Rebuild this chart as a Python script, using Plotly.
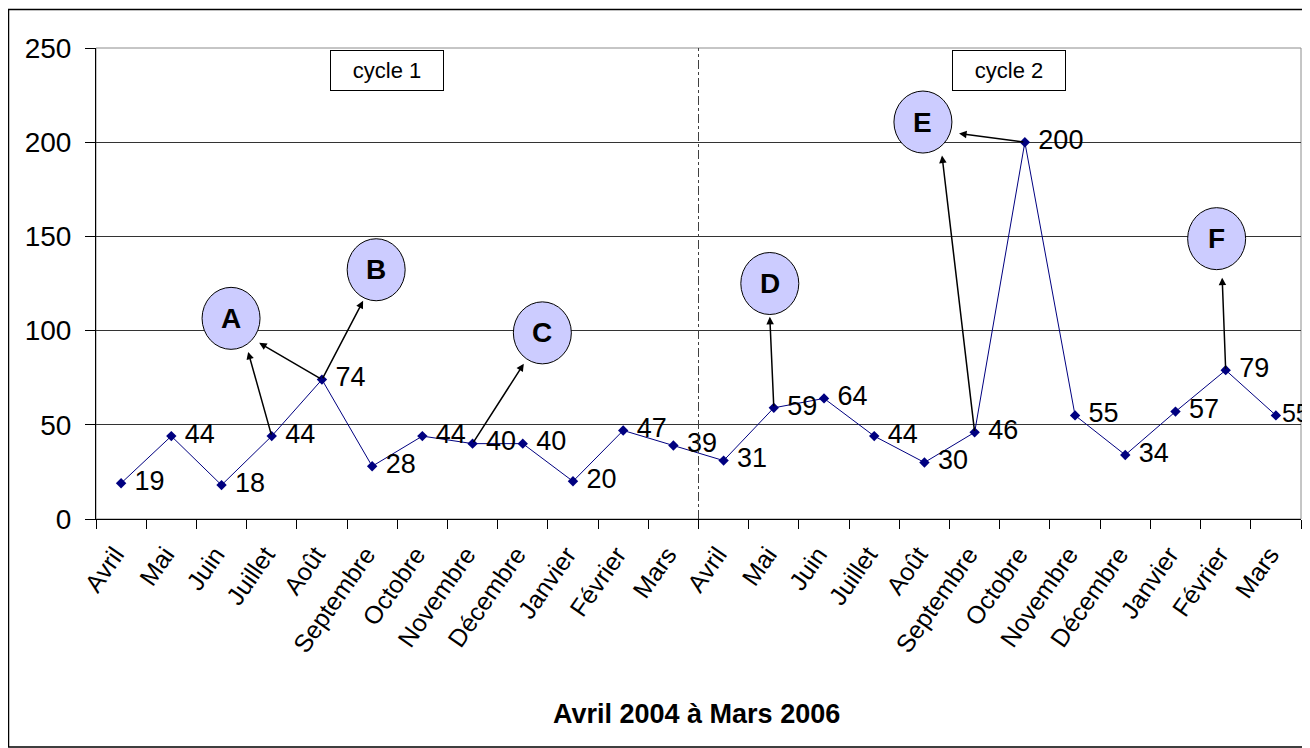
import plotly.graph_objects as go

# ---- data ----
months = ["Avril", "Mai", "Juin", "Juillet", "Août", "Septembre", "Octobre",
          "Novembre", "Décembre", "Janvier", "Février", "Mars",
          "Avril", "Mai", "Juin", "Juillet", "Août", "Septembre", "Octobre",
          "Novembre", "Décembre", "Janvier", "Février", "Mars"]
values = [19, 44, 18, 44, 74, 28, 44, 40, 40, 20, 47, 39,
          31, 59, 64, 44, 30, 46, 200, 55, 34, 57, 79, 55]
x_title = "Avril 2004 à Mars 2006"
y_ticks = [0, 50, 100, 150, 200, 250]

# bubbles (letter, x in category index, y in data units)
bubble_letters = ["A", "B", "C", "D", "E", "F"]
bubble_x = [2.19, 5.08, 8.39, 12.92, 15.97, 21.82]
bubble_y = [106.5, 132.3, 98.8, 125.0, 210.7, 148.8]

# arrows: from data point index -> head position
arrow_from = [3, 4, 4, 7, 13, 17, 18, 22]
arrow_head_x = [2.53, 2.75, 4.82, 8.02, 12.92, 16.35, 16.69, 21.93]
arrow_head_y = [88.7, 93.5, 115.8, 82.4, 107.3, 192.9, 204.6, 128.1]

cycle_labels = ["cycle 1", "cycle 2"]
cycle_x = [5.30, 17.68]
cycle_y = [238.3, 238.0]
cycle_split = 11.5

FONT = "Liberation Sans, Arial, sans-serif"
NAVY = "#000080"

xs = list(range(len(values)))
labels = [f" {v}" for v in values]
labels[-1] = f"{values[-1]}"
label_sizes = [27] * len(values)
label_sizes[-1] = 25

fig = go.Figure()
fig.add_trace(go.Scatter(
    x=xs, y=values, mode="lines+markers+text",
    line=dict(color=NAVY, width=1),
    marker=dict(symbol="diamond", size=8, color=NAVY),
    text=labels, textposition="middle right",
    textfont=dict(family=FONT, size=label_sizes, color="black"),
    cliponaxis=False, showlegend=False, hoverinfo="skip",
))

# page body has an 8px margin: figure is offset by 8px in the window
OFF = 8
W, H = 1310 - OFF, 748 - OFF
L, T = 96 - OFF, 48 - OFF
R = W - (1301 - OFF)
B = H - (519 - OFF)
pw, ph = W - L - R, H - T - B


def px_x(wx):
    return (wx - OFF - L) / pw


def px_y(wy):
    return (H - B - (wy - OFF)) / ph


shapes = []
annotations = []

# plot-area border (grey)
shapes.append(dict(type="rect", xref="paper", yref="paper", x0=0, x1=1, y0=0, y1=1,
                   line=dict(color="#8c8c8c", width=1), layer="below"))
# outer frame
shapes.append(dict(type="rect", xref="paper", yref="paper",
                   x0=px_x(8.5), x1=px_x(1315),
                   y0=px_y(747), y1=px_y(9.5),
                   line=dict(color="black", width=1.5)))
# cycle separator
shapes.append(dict(type="line", xref="x", yref="y", x0=cycle_split, x1=cycle_split,
                   y0=0, y1=250, line=dict(color="#404040", width=1, dash="dashdot")))

# arrows
for i, hx, hy in zip(arrow_from, arrow_head_x, arrow_head_y):
    annotations.append(dict(x=hx, y=hy, xref="x", yref="y", ax=i, ay=values[i],
                            axref="x", ayref="y", text="", showarrow=True,
                            arrowhead=2, arrowsize=1, arrowwidth=1.5, arrowcolor="black",
                            standoff=0, startstandoff=0))

# bubbles
for lt, bx, by in zip(bubble_letters, bubble_x, bubble_y):
    shapes.append(dict(type="circle", xref="x", yref="y", xsizemode="pixel", ysizemode="pixel",
                       xanchor=bx, yanchor=by, x0=-29, x1=29, y0=-31, y1=31,
                       fillcolor="#CCCCFF", line=dict(color="black", width=1), layer="above"))
    annotations.append(dict(x=bx, y=by, xref="x", yref="y", text=f"<b>{lt}</b>",
                            showarrow=False, xanchor="center", yanchor="middle",
                            font=dict(family=FONT, size=28, color="black")))

# cycle boxes
for lab, cx, cy in zip(cycle_labels, cycle_x, cycle_y):
    annotations.append(dict(x=cx, y=cy, xref="x", yref="y", text=lab, showarrow=False,
                            xanchor="center", yanchor="middle",
                            font=dict(family=FONT, size=22, color="black"),
                            bordercolor="black", borderwidth=1, borderpad=0,
                            width=112, height=39, bgcolor="white"))

# x title
annotations.append(dict(x=px_x(696), y=px_y(714), xref="paper", yref="paper",
                        xanchor="center", yanchor="middle",
                        text=f"<b>{x_title}</b>", showarrow=False,
                        font=dict(family=FONT, size=27, color="black")))

LABEL_SHIFT = -0.12  # rotated month labels end slightly left of the category centre

fig.update_layout(
    width=W, height=H,
    margin=dict(l=L, r=R, t=T, b=B, autoexpand=False),
    paper_bgcolor="white", plot_bgcolor="white",
    font=dict(family=FONT, color="black"),
    shapes=shapes, annotations=annotations,
    xaxis=dict(range=[-0.5, len(values) - 0.5], tickmode="array",
               tickvals=[i + LABEL_SHIFT for i in xs],
               ticktext=months, tickangle=-55, ticks="", showgrid=False,
               tickfont=dict(family=FONT, size=25, color="black"),
               showline=True, linecolor="black", linewidth=1, zeroline=False,
               ticklabelstandoff=10, automargin=False,
               minor=dict(tickmode="linear", tick0=-0.5, dtick=1, ticks="outside",
                          ticklen=9, tickcolor="black", tickwidth=1, showgrid=False)),
    yaxis=dict(range=[0, 250], tickmode="array", tickvals=y_ticks,
               ticks="outside", ticklen=10, tickcolor="black",
               showgrid=True, gridcolor="#333333", gridwidth=1,
               showline=True, linecolor="black", linewidth=1, zeroline=False,
               tickfont=dict(family=FONT, size=28, color="black"),
               ticklabelstandoff=8, automargin=False),
)

fig.write_html("out.html")
